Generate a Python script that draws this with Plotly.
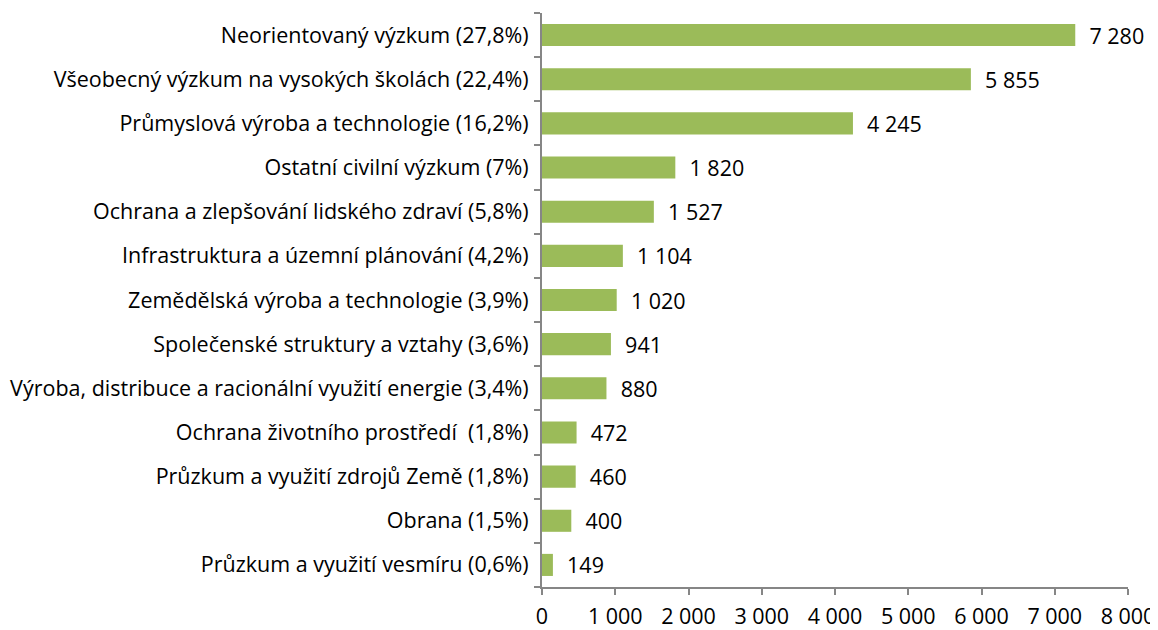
import plotly.graph_objects as go

categories = [
    "Neorientovaný výzkum (27,8%)",
    "Všeobecný výzkum na vysokých školách (22,4%)",
    "Průmyslová výroba a technologie (16,2%)",
    "Ostatní civilní výzkum (7%)",
    "Ochrana a zlepšování lidského zdraví (5,8%)",
    "Infrastruktura a územní plánování (4,2%)",
    "Zemědělská výroba a technologie (3,9%)",
    "Společenské struktury a vztahy (3,6%)",
    "Výroba, distribuce a racionální využití energie (3,4%)",
    "Ochrana životního prostředí  (1,8%)",
    "Průzkum a využití zdrojů Země (1,8%)",
    "Obrana (1,5%)",
    "Průzkum a využití vesmíru (0,6%)",
]
values = [7280, 5855, 4245, 1820, 1527, 1104, 1020, 941, 880, 472, 460, 400, 149]

tick_vals = [0, 1000, 2000, 3000, 4000, 5000, 6000, 7000, 8000]

font_family = "'Open Sans', sans-serif"
fsize = 21.5

fig = go.Figure()
fig.add_trace(go.Bar(
    y=categories,
    x=values,
    orientation="h",
    marker=dict(color="#9BBB59", line=dict(width=0)),
    texttemplate="\u00a0\u00a0%{x:,}",
    textposition="outside",
    constraintext="none",
    textfont=dict(size=fsize, color="#000000", family=font_family),
    cliponaxis=False,
))

# the page body keeps its default 8px margin, so the figure is 8px smaller
fig.update_layout(
    width=1150, height=622,
    margin=dict(l=534, r=30, t=5, b=43, autoexpand=False),
    plot_bgcolor="white", paper_bgcolor="white",
    separators=", ",
    bargap=0.5,
    showlegend=False,
    font=dict(family=font_family, size=fsize, color="#000000"),
)
fig.update_xaxes(
    range=[0, 8000], tickvals=tick_vals, tickformat=",",
    showgrid=False, zeroline=False, automargin=False,
    showline=True, linecolor="#868686", linewidth=2,
    ticks="outside", ticklen=6, tickcolor="#868686", tickwidth=2,
    ticklabelstandoff=3,
    tickfont=dict(size=fsize),
)
fig.update_yaxes(
    categoryorder="array", categoryarray=categories[::-1],
    showgrid=False, zeroline=False, automargin=False,
    showline=True, linecolor="#868686", linewidth=2,
    ticks="outside", tickson="boundaries", ticklen=6,
    tickcolor="#868686", tickwidth=2,
    ticklabelstandoff=7,
    tickfont=dict(size=fsize),
)

fig.write_html("out.html")
